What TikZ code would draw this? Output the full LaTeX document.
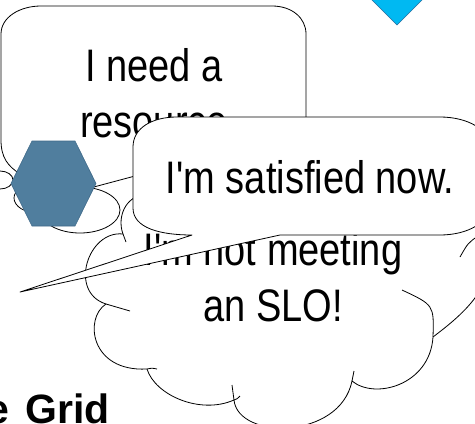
\documentclass[tikz,border=0pt]{standalone}
\usepackage{fontspec}
\setmainfont{Liberation Sans}
\usepackage{graphicx}
\definecolor{hexblue}{HTML}{507E9E}
\definecolor{hexedge}{HTML}{3F6A8A}
\definecolor{sky}{HTML}{00B9F2}
\definecolor{skyedge}{HTML}{2E6E9E}
\newcommand{\tall}[1]{\scalebox{1}[1.2]{\begin{tabular}{@{}c@{}}#1\end{tabular}}}
\tikzset{
  outline/.style ={draw=black,line width=.8pt,fill=white,line join=round},
  hook/.style    ={draw=black,line width=.8pt},
  say/.style     ={font=\fontsize{38}{47}\selectfont,inner sep=0pt,align=center},
  hexa/.style    ={draw=hexedge,line width=.6pt,fill=hexblue},
  gem/.style     ={draw=skyedge,line width=.6pt,fill=sky},
  title/.style   ={font=\fontsize{41}{49}\selectfont\bfseries,inner sep=0pt,anchor=base west},
}

\begin{document}
\begin{tikzpicture}[x=1pt,y=-1pt]
  \useasboundingbox (0,0) rectangle (475,424);
  \clip (0,0) rectangle (475,424);

  % thought cloud
  \path[outline] (150,195) .. controls (128,192) and (116,215) .. (123,234)
    .. controls (88,230) and (68,292) .. (106,304)
    .. controls (84,318) and (90,372) .. (147,369)
    .. controls (155,395) and (200,415) .. (234,400)
    .. controls (238,440) and (340,440) .. (352,381)
    .. controls (375,400) and (430,385) .. (433,337)
    .. controls (455,320) and (510,280) .. (478,238)
    .. controls (500,200) and (470,185) .. (440,195)
    .. controls (400,170) and (330,175) .. (300,195)
    .. controls (260,170) and (180,170) .. (150,195) -- cycle;
  \foreach \ax/\ay/\cx/\cy/\bx/\by in {123/234/125/238/126/242, 106/304/118/307/130/311,
      147/369/152/368/157/369, 234/400/237/399/240/396, 234/400/233/392/232/385,
      352/381/353/376/354/371, 433/337/434/305/402/290, 478/236/468/243/460/257}
    \draw[hook] (\ax,\ay) .. controls (\cx,\cy) .. (\bx,\by);
  \node[say] (slo) at (273,282) {\tall{I\textquotesingle m not meeting\\an SLO!}};

  % trail of bubbles
  \path[outline] (0,180) ellipse [x radius=13,y radius=9];
  \path[outline] (38,198) ellipse [x radius=24,y radius=15];
  \path[outline] (80,210) ellipse [x radius=40,y radius=23];

  % request callout
  \path[outline] (41,6) -- (272,6) .. controls (292,6) and (306,18) .. (306,34)
    -- (306,145) .. controls (306,162) and (292,172) .. (272,172)
    -- (150,172) -- (45,200) -- (20,174) .. controls (8,166) and (1,158) .. (1,140)
    -- (1,34) .. controls (1,17) and (20,6) .. (41,6) -- cycle;
  \node[say] (need) at (154,98) {\tall{I need a\\resource}};

  % the job
  \path[hexa] (11,183.5) -- (32,141) -- (75,141) -- (96,183.5) -- (75,226) -- (32,226) -- cycle;

  % answer callout
  \path[outline] (177,117) -- (440,117) .. controls (468,117) and (490,130) .. (490,147)
    -- (490,205) .. controls (490,222) and (468,235) .. (440,235)
    -- (280,235) -- (20,292) -- (192,235) .. controls (160,235) and (133,228) .. (133,208)
    -- (133,147) .. controls (133,128) and (152,117) .. (177,117) -- cycle;
  \node[say] (ok) at (310,182) {\tall{I\textquotesingle m satisfied now.}};

  % corner pieces
  \path[gem] (397,25) -- (347,-25) -- (397,-75) -- (447,-25) -- cycle;
  \node[title] (grid) at (-14,423) {e\hspace{5pt} Grid};
\end{tikzpicture}
\end{document}
